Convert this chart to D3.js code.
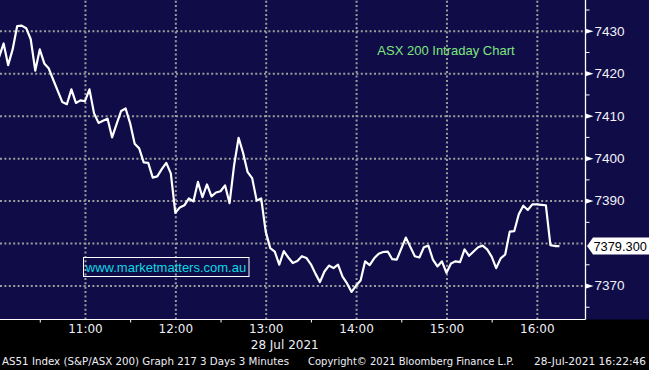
<!DOCTYPE html>
<html lang="en">
<head>
<meta charset="UTF-8" />
<title>ASX 200 Intraday</title>
<script src="https://d3js.org/d3.v7.min.js"></script>
<style>
  body { margin: 0; background: #000; }
  svg { display: block; }
</style>
</head>
<body>
<div id="chart"></div>
<script>
// minutes after 10:00, one bar every 3 minutes starting 10:03
var startMinute = 3;
var stepMinutes = 3;
var prices = [
  7423.8, 7427.0, 7421.9, 7425.6, 7431.1, 7431.2, 7430.6, 7428.0, 7420.6, 7425.6,
  7422.3, 7421.1, 7418.4, 7415.8, 7413.2, 7412.7, 7416.2, 7413.0, 7413.6, 7413.4,
  7416.2, 7410.6, 7408.3, 7408.8, 7409.3, 7404.9, 7408.0, 7411.1, 7411.7, 7408.2,
  7403.4, 7402.3, 7399.0, 7398.9, 7395.4, 7395.7, 7397.4, 7398.9, 7396.4, 7387.1,
  7388.4, 7388.9, 7390.5, 7389.8, 7394.4, 7390.8, 7393.8, 7391.0, 7391.9, 7392.2,
  7393.6, 7389.4, 7398.3, 7404.8, 7401.2, 7396.7, 7395.3, 7390.0, 7390.5, 7382.7,
  7378.8, 7378.0, 7374.9, 7378.1, 7376.6, 7375.3, 7375.8, 7376.9, 7376.5, 7375.0,
  7372.8, 7370.8, 7373.3, 7374.7, 7374.1, 7374.9, 7372.1, 7370.5, 7368.5, 7370.0,
  7371.2, 7375.7, 7374.8, 7376.4, 7377.5, 7377.9, 7378.0, 7376.2, 7376.1, 7378.7,
  7381.3, 7379.1, 7376.9, 7376.6, 7379.0, 7379.4, 7376.1, 7374.5, 7375.7, 7373.0,
  7375.2, 7375.7, 7375.5, 7378.5, 7377.0, 7378.0, 7379.0, 7379.4, 7378.5, 7376.8,
  7374.1, 7376.4, 7377.3, 7382.7, 7382.8, 7386.8, 7388.8, 7387.8, 7389.1, 7389.1,
  7389.0, 7388.9, 7379.5, 7379.3, 7379.3
];
var lastPrice = "7379.300";

var hourTicks = [60, 120, 180, 240, 300, 360];
var hourLabels = ["11:00", "12:00", "13:00", "14:00", "15:00", "16:00"];
var halfHourTicks = [30, 90, 150, 210, 270, 330];
var gridPrices = [7370, 7380, 7390, 7400, 7410, 7420, 7430];
// 7380 is covered by the last-price marker
var labelPrices = [7370, 7390, 7400, 7410, 7420, 7430];
var priceMinorTicks = [7365, 7375, 7385, 7395, 7405, 7415, 7425, 7435];

var title = "ASX 200 Intraday Chart";
var website = "www.marketmatters.com.au";
var dateLabel = "28 Jul 2021";
var footerLeft = "AS51 Index (S&P/ASX 200) Graph 217 3 Days 3 Minutes";
var footerMid = "Copyright\u00a9 2021 Bloomberg Finance L.P.";
var footerRight = "28-Jul-2021 16:22:46";

var w = 649;
var h = 370;
var plotRight = 585.5;
var plotBottom = 319.5;

var svg = d3.select("#chart")
  .append("svg")
  .attr("width", w)
  .attr("height", h);

var x = d3.scaleLinear()
  .domain([3.6, 392.3])
  .range([0, plotRight]);

var y = d3.scaleLinear()
  .domain([7362, 7437.24])
  .range([plotBottom, 0]);

var data = prices.map(function (p, i) {
  return { t: startMinute + i * stepMinutes, v: p };
});

// backgrounds
svg.append("rect").attr("width", w).attr("height", h).attr("fill", "#000");
svg.append("rect").attr("width", w).attr("height", plotBottom).attr("fill", "#0f0c48");

svg.append("defs").append("clipPath").attr("id", "plotClip")
  .append("rect").attr("width", plotRight).attr("height", plotBottom);

// dotted grid
var gridY = svg.append("g")
  .call(d3.axisLeft(y).tickValues(gridPrices).tickSize(-plotRight).tickFormat(""));
gridY.select(".domain").remove();
gridY.selectAll("line")
  .attr("stroke", "#9c9c9c")
  .attr("stroke-width", 2)
  .attr("stroke-dasharray", "2,2.4");

var gridX = svg.append("g")
  .attr("transform", "translate(0," + plotBottom + ")")
  .call(d3.axisBottom(x).tickValues(hourTicks).tickSize(-plotBottom).tickFormat(""));
gridX.select(".domain").remove();
gridX.selectAll("line")
  .attr("stroke", "#9c9c9c")
  .attr("stroke-width", 2)
  .attr("stroke-dasharray", "2,2.4");

// price line
var line = d3.line()
  .x(function (d) { return x(d.t); })
  .y(function (d) { return y(d.v); });

svg.append("path")
  .datum(data)
  .attr("clip-path", "url(#plotClip)")
  .attr("fill", "none")
  .attr("stroke", "#ffffff")
  .attr("stroke-width", 2.2)
  .attr("stroke-linejoin", "round")
  .attr("d", line);

// bottom axis
svg.append("line")
  .attr("x1", 0).attr("x2", plotRight)
  .attr("y1", plotBottom).attr("y2", plotBottom)
  .attr("stroke", "#ffffff").attr("stroke-width", 1);

var minorX = svg.append("g")
  .attr("transform", "translate(0," + plotBottom + ")")
  .call(d3.axisBottom(x).tickValues(halfHourTicks).tickSize(3).tickFormat(""));
minorX.select(".domain").remove();
minorX.selectAll("line").attr("stroke", "#ffffff");

var xAxis = svg.append("g")
  .attr("transform", "translate(0," + plotBottom + ")")
  .call(d3.axisBottom(x).tickValues(hourTicks).tickSize(0).tickPadding(5)
    .tickFormat(function (d, i) { return hourLabels[i]; }));
xAxis.select(".domain").remove();
xAxis.selectAll("text")
  .attr("fill", "#eeeef6")
  .style("font-family", "DejaVu Sans, Verdana, sans-serif")
  .style("font-size", "12px");

svg.append("text")
  .attr("x", x(180) + 19)
  .attr("y", 349)
  .attr("text-anchor", "middle")
  .attr("fill", "#eeeef6")
  .style("font-family", "DejaVu Sans, Verdana, sans-serif")
  .style("font-size", "12px")
  .text(dateLabel);

// right axis
svg.append("line")
  .attr("x1", plotRight).attr("x2", plotRight)
  .attr("y1", 0).attr("y2", plotBottom)
  .attr("stroke", "#ffffff").attr("stroke-width", 1.3);

var minorY = svg.append("g")
  .attr("transform", "translate(" + plotRight + ",0)")
  .call(d3.axisRight(y).tickValues(priceMinorTicks).tickSize(4).tickFormat(""));
minorY.select(".domain").remove();
minorY.selectAll("line").attr("stroke", "#ffffff");

var yAxis = svg.append("g")
  .attr("transform", "translate(" + plotRight + ",0)")
  .call(d3.axisRight(y).tickValues(labelPrices).tickSize(0).tickPadding(9)
    .tickFormat(d3.format("d")));
yAxis.select(".domain").remove();
yAxis.selectAll(".tick").append("path")
  .attr("d", "M0,-2.6L8,0L0,2.6Z")
  .attr("fill", "#ffffff");
yAxis.selectAll("text")
  .attr("fill", "#f2f2f8")
  .style("font-family", "Liberation Sans, Arial, sans-serif")
  .style("font-size", "13.5px");

// last value marker
var lastY = y(prices[prices.length - 1]);
var marker = svg.append("g").attr("transform", "translate(" + (plotRight + 1.5) + "," + lastY + ")");
marker.append("path")
  .attr("d", "M0,0L6,-8.5L64,-8.5L64,8.5L6,8.5Z")
  .attr("fill", "#ffffff");
marker.append("text")
  .attr("x", 6.5)
  .attr("y", 0)
  .attr("dy", "0.36em")
  .attr("fill", "#000")
  .style("font-family", "Liberation Sans, Arial, sans-serif")
  .style("font-size", "12.8px")
  .text(lastPrice);

// title and website box
svg.append("text")
  .attr("x", 446)
  .attr("y", 55)
  .attr("text-anchor", "middle")
  .attr("fill", "#7ee67e")
  .style("font-family", "Liberation Sans, Arial, sans-serif")
  .style("font-size", "13px")
  .text(title);

svg.append("rect")
  .attr("x", 83.5).attr("y", 257.5)
  .attr("width", 165.5).attr("height", 19)
  .attr("fill", "none")
  .attr("stroke", "#ffffff").attr("stroke-width", 1);

svg.append("text")
  .attr("x", 166)
  .attr("y", 272)
  .attr("text-anchor", "middle")
  .attr("fill", "#10d8e0")
  .style("font-family", "Liberation Sans, Arial, sans-serif")
  .style("font-size", "13px")
  .text(website);

// footer
var footer = [
  { text: footerLeft, x: 2, len: 287 },
  { text: footerMid, x: 308, len: 206 },
  { text: footerRight, x: 534, len: 112 }
];
svg.selectAll(".footer")
  .data(footer)
  .enter()
  .append("text")
  .attr("class", "footer")
  .attr("x", function (d) { return d.x; })
  .attr("y", 365)
  .attr("textLength", function (d) { return d.len; })
  .attr("lengthAdjust", "spacingAndGlyphs")
  .attr("fill", "#eeeef6")
  .style("font-family", "DejaVu Sans, Verdana, sans-serif")
  .style("font-size", "10.5px")
  .text(function (d) { return d.text; });
</script>
</body>
</html>
